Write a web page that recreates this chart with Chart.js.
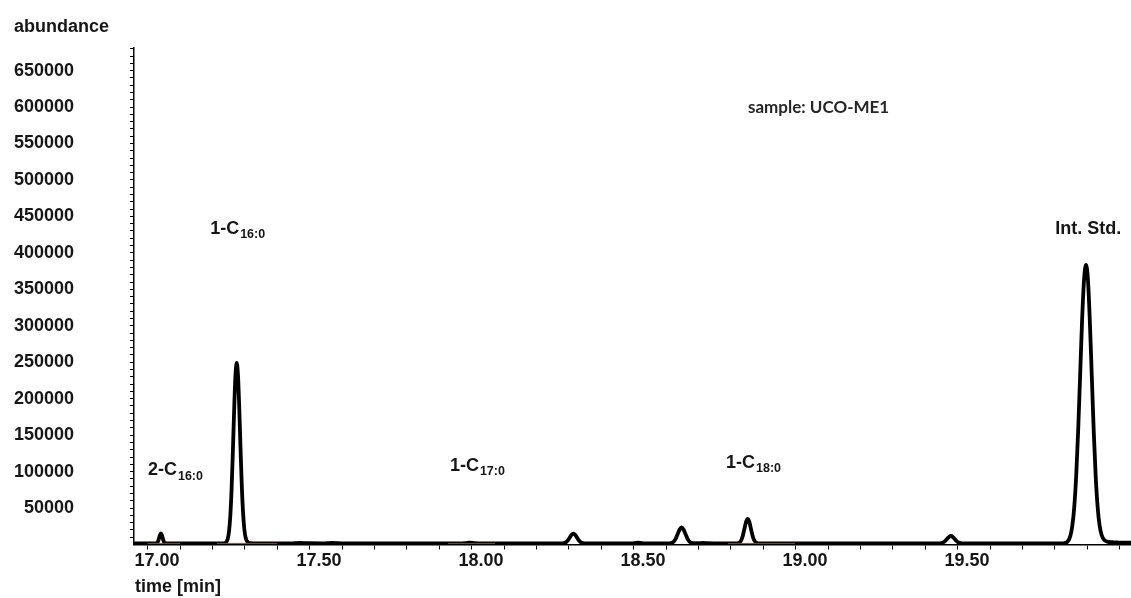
<!DOCTYPE html>
<html>
<head>
<meta charset="utf-8">
<title>UCO-ME1 chromatogram</title>
<script src="https://cdn.jsdelivr.net/npm/chart.js@4/dist/chart.umd.min.js"></script>
<style>
  html, body { margin: 0; padding: 0; background: #fff; }
  #wrap { width: 1131px; height: 598px; }
</style>
</head>
<body>
<div id="wrap"><canvas id="chrom" width="1131" height="598"></canvas></div>
<script>
/* GC chromatogram of sample UCO-ME1: abundance vs retention time.
 * Trace. */

// retention time [min]
const TIME = [
  16.858, 16.900, 16.925, 16.929, 16.932, 16.935, 16.938, 16.941, 16.944, 16.947,
  16.950, 16.953, 16.957, 16.980, 17.050, 17.120, 17.133, 17.141, 17.147, 17.151,
  17.155, 17.159, 17.163, 17.167, 17.171, 17.175, 17.179, 17.183, 17.187, 17.191,
  17.195, 17.199, 17.203, 17.209, 17.217, 17.240, 17.300, 17.340, 17.370, 17.400,
  17.440, 17.470, 17.500, 17.540, 17.700, 17.860, 17.880, 17.895, 17.910, 17.930,
  18.100, 18.176, 18.184, 18.190, 18.196, 18.202, 18.208, 18.214, 18.220, 18.226,
  18.232, 18.238, 18.244, 18.252, 18.300, 18.390, 18.403, 18.414, 18.425, 18.440,
  18.510, 18.518, 18.524, 18.530, 18.536, 18.542, 18.548, 18.554, 18.560, 18.566,
  18.572, 18.578, 18.586, 18.600, 18.614, 18.628, 18.650, 18.720, 18.727, 18.732,
  18.737, 18.742, 18.747, 18.752, 18.757, 18.762, 18.767, 18.772, 18.777, 18.784,
  18.820, 19.000, 19.200, 19.341, 19.349, 19.355, 19.361, 19.367, 19.373, 19.379,
  19.385, 19.391, 19.397, 19.403, 19.409, 19.417, 19.480, 19.650, 19.720, 19.730,
  19.740, 19.748, 19.754, 19.760, 19.766, 19.772, 19.778, 19.784, 19.790, 19.796,
  19.802, 19.808, 19.814, 19.820, 19.826, 19.832, 19.838, 19.844, 19.852, 19.862,
  19.876, 19.896, 19.916, 19.935,
];

// abundance (counts)
const ABUNDANCE = [
  1500, 1500, 1580, 2260, 4190, 8120, 12860, 15100, 12860, 8120,
  4190, 2260, 1580, 1500, 1500, 1500, 1500, 2470, 7200, 17000,
  37600, 73800, 125500, 183400, 230700, 249000, 231500, 185500, 128500, 77000,
  40500, 19000, 8500, 3200, 1800, 1550, 1550, 1600, 2200, 1700,
  1600, 2100, 1600, 1500, 1500, 1500, 1800, 2600, 1800, 1500,
  1500, 1535, 1830, 2760, 5040, 8950, 13140, 15000, 13140, 8950,
  5040, 2760, 1830, 1535, 1500, 1500, 1800, 2400, 1800, 1500,
  1610, 2310, 4160, 8170, 14380, 20620, 23300, 20620, 14380, 8170,
  4160, 2310, 1700, 1800, 2300, 1700, 1500, 1680, 2870, 5860,
  12120, 21600, 30980, 35000, 30980, 21600, 12120, 5860, 2870, 1680,
  1500, 1500, 1500, 1550, 1880, 2740, 4620, 7530, 10450, 11700,
  10450, 7530, 4620, 2740, 1880, 1550, 1500, 1500, 1500, 1920,
  4370, 12000, 25900, 52100, 95300, 157000, 231800, 306700, 362500, 383500,
  364000, 306000, 230700, 155400, 93900, 51700, 26300, 13400, 6400, 3900,
  3100, 2700, 2500, 2400,
];

// integration baselines (thin red segments under some peaks)
const BASE_START = [16.900, 17.114, 17.827, 18.691];
const BASE_END   = [17.000, 17.300, 17.972, 18.898];
const BASE_LEVEL = 1500;

// axes
const X_MIN = 16.858, X_MAX = 19.935;
const Y_MIN = 0, Y_MAX = 681000;
const X_LABELED = [17.0, 17.5, 18.0, 18.5, 19.0, 19.5];
const X_TICK_LABELS = ["17.00", "17.50", "18.00", "18.50", "19.00", "19.50"];
const X_MINOR = { from: 16.9, to: 19.9, step: 0.1 };
const Y_LABELED = [50000, 100000, 150000, 200000, 250000, 300000, 350000,
  400000, 450000, 500000, 550000, 600000, 650000];
const Y_MINOR = { from: 10000, to: 680000, step: 10000 };

// peak annotations: main text + subscript, anchored at (time, abundance)
const PEAK_MAIN = ["2-C", "1-C", "1-C", "1-C", "Int. Std."];
const PEAK_SUB  = ["16:0", "16:0", "17:0", "18:0", ""];
const PEAK_AT_X = [16.901, 17.093, 17.833, 18.685, 19.701];
const PEAK_AT_Y = [102000, 433000, 107700, 111800, 433000];
const SAMPLE_TEXT = "sample: UCO-ME1";
const SAMPLE_AT = [18.753, 599000];

const FONT = "'Liberation Sans', Arial, sans-serif";
const INK = "#161616";

function tickList(r) {
  const out = [];
  const n = Math.round((r.to - r.from) / r.step);
  for (let i = 0; i <= n; i++) out.push({ value: +(r.from + i * r.step).toFixed(4) });
  return out;
}

function labelFor(v, labeled, texts) {
  const i = labeled.findIndex((l) => Math.abs(l - v) < 1e-6);
  return i >= 0 ? texts[i] : "";
}

const textPlugin = {
  id: "chromText",
  afterDatasetsDraw(chart) {
    const ctx = chart.ctx, a = chart.chartArea;
    const xs = chart.scales.x, ys = chart.scales.y;
    ctx.save();
    ctx.fillStyle = INK;
    ctx.textAlign = "left";
    ctx.textBaseline = "middle";

    // axis titles
    ctx.font = "bold 18px " + FONT;
    ctx.fillText("abundance", a.left - 120, a.top - 21);
    ctx.fillText("time [min]", a.left + 1, a.bottom + 43);

    // peak names with subscripts
    PEAK_MAIN.forEach((m, i) => {
      const px = xs.getPixelForValue(PEAK_AT_X[i]);
      const py = ys.getPixelForValue(PEAK_AT_Y[i]);
      ctx.font = "bold 18px " + FONT;
      ctx.fillText(m, px, py);
      const w = ctx.measureText(m).width;
      if (PEAK_SUB[i]) {
        ctx.font = "bold 12.5px " + FONT;
        ctx.fillText(PEAK_SUB[i], px + w + 1, py + 6);
      }
    });

    // sample name
    ctx.font = "bold 17px Lato, 'Open Sans', sans-serif";
    ctx.fillStyle = "#262626";
    ctx.fillText(SAMPLE_TEXT, xs.getPixelForValue(SAMPLE_AT[0]), ys.getPixelForValue(SAMPLE_AT[1]));
    ctx.restore();
  },
};

const datasets = [{
  data: TIME.map((t, i) => ({ x: t, y: ABUNDANCE[i] })),
  borderColor: "#000",
  borderWidth: 3.8,
  pointRadius: 0,
  cubicInterpolationMode: "monotone",
  borderJoinStyle: "round",
  borderCapStyle: "round",
  fill: false,
  order: 2,
}];
BASE_START.forEach((s, i) => {
  datasets.push({
    data: [{ x: s, y: BASE_LEVEL }, { x: BASE_END[i], y: BASE_LEVEL }],
    borderColor: "#a33a3a",
    borderWidth: 1,
    pointRadius: 0,
    fill: false,
    order: 1,
  });
});

new Chart(document.getElementById("chrom"), {
  type: "line",
  data: { datasets },
  plugins: [textPlugin],
  options: {
    responsive: false,
    animation: false,
    devicePixelRatio: 1,
    layout: { padding: { left: 14, top: 48, right: 0, bottom: 0 } },
    plugins: { legend: { display: false }, tooltip: { enabled: false } },
    scales: {
      x: {
        type: "linear",
        min: X_MIN, max: X_MAX,
        afterBuildTicks: (s) => { s.ticks = tickList(X_MINOR); },
        afterFit: (s) => { s.height = 53.5; s.paddingLeft = 0; s.paddingRight = 0; },
        border: { display: true, color: "#000", width: 1.5 },
        grid: { drawOnChartArea: false, drawTicks: true, tickLength: 5, tickColor: "#000", tickWidth: 1 },
        ticks: {
          autoSkip: false, maxRotation: 0, minRotation: 0,
          labelOffset: -23, padding: 1,
          color: INK, font: { family: FONT, size: 18, weight: "bold" },
          callback: (v) => labelFor(v, X_LABELED, X_TICK_LABELS),
        },
      },
      y: {
        type: "linear",
        min: Y_MIN, max: Y_MAX,
        afterBuildTicks: (s) => { s.ticks = tickList(Y_MINOR); },
        // label gap comes from ticks.padding; keep it out of the top/bottom layout padding
        afterFit: (s) => { s.width = 120; s.paddingTop = 0; s.paddingBottom = 0; },
        border: { display: true, color: "#000", width: 1.5 },
        grid: { drawOnChartArea: false, drawTicks: true, tickLength: 4, tickColor: "#000", tickWidth: 1 },
        ticks: {
          autoSkip: false, padding: 56,
          color: INK, font: { family: FONT, size: 18, weight: "bold" },
          callback: (v) => labelFor(v, Y_LABELED, Y_LABELED.map(String)),
        },
      },
    },
  },
});
</script>
</body>
</html>
